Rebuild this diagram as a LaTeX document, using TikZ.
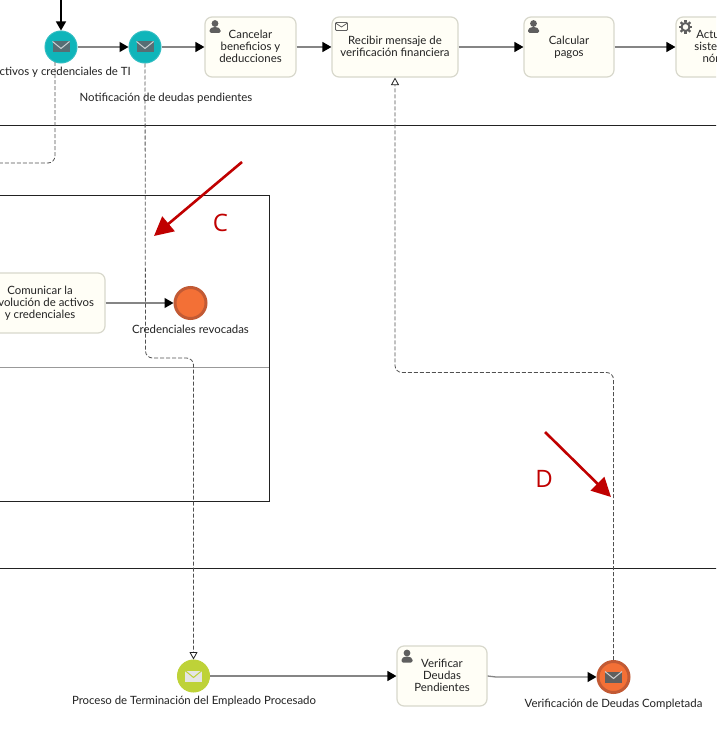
\documentclass[tikz,border=0pt]{standalone}
\usepackage{fontspec}
\setmainfont{Lato}
\newfontfamily\markfont{Open Sans}
\usetikzlibrary{arrows.meta}
\definecolor{taskfill}{HTML}{FFFEF6}
\definecolor{taskline}{HTML}{D8D8CC}
\definecolor{flowgrey}{HTML}{858585}
\definecolor{dashgrey}{HTML}{505050}
\definecolor{inkdark}{HTML}{222222}
\definecolor{iconsgrey}{HTML}{5F5F5F}
\definecolor{tealfill}{HTML}{0FB5BA}
\definecolor{tealline}{HTML}{2FBDC2}
\definecolor{tealicon}{HTML}{566E74}
\definecolor{orangefill}{HTML}{F37036}
\definecolor{orangeline}{HTML}{C25A34}
\definecolor{greenfill}{HTML}{BED238}
\definecolor{markred}{HTML}{C00000}
\newcommand\lstrut{\vphantom{Ag}}
\tikzset{
  x=1pt,y=-1pt,
  txt/.style={font=\fontsize{11.4}{12}\selectfont,text=inkdark,align=center,inner sep=0pt},
  taskbox/.style={draw=taskline,fill=taskfill,line width=1.2pt,rounded corners=7pt,minimum height=60pt,inner sep=0pt,
     font=\fontsize{11.4}{12}\selectfont,text=inkdark,align=center},
  evteal/.style={circle,draw=tealline,fill=tealfill,line width=1pt,minimum size=32pt,inner sep=0pt},
  evgreen/.style={circle,draw=greenfill,fill=greenfill,line width=1pt,minimum size=32pt,inner sep=0pt},
  evorange/.style={circle,draw=orangeline,fill=orangefill,line width=3pt,minimum size=31pt,inner sep=0pt},
  seqflow/.style={draw=flowgrey,line width=1.3pt,-{Triangle[length=9pt,width=10pt,color=black,fill=black]}},
  msgflow/.style={draw=dashgrey,line width=0.8pt,dash pattern=on 4pt off 2pt,rounded corners=7pt,
     -{Triangle[open,length=7.5pt,width=8pt,color=inkdark,fill=white]}},
  msgplain/.style={draw=dashgrey,line width=0.8pt,dash pattern=on 4pt off 2pt,rounded corners=7pt},
  redarrow/.style={draw=markred,line width=2.6pt,-{Triangle[length=19pt,width=19pt,color=markred,fill=markred]}},
  pool/.style={draw=inkdark,line width=1pt},
  bigletter/.style={font=\markfont\fontsize{24}{24}\selectfont,text=markred,inner sep=0pt},
  envfilled/.pic={
    \fill[#1] (-8.5,-5.5) rectangle (8.5,5.5);
    \draw[white!70!#1,line width=1pt] (-8.5,-5.5) -- (0,1.5) -- (8.5,-5.5);
  },
  envlight/.pic={
    \fill[white!90!black] (-8.5,-5.5) rectangle (8.5,5.5);
    \draw[greenfill,line width=1pt] (-8.5,-5.5) -- (0,1.5) -- (8.5,-5.5);
  },
  envopen/.pic={
    \draw[iconsgrey,line width=0.8pt,rounded corners=1pt] (-6,-4) rectangle (6,4);
    \draw[iconsgrey,line width=0.8pt] (-6,-3.5) -- (0,0.5) -- (6,-3.5);
  },
  person/.pic={
    \fill[iconsgrey] (0,-3) circle (3.4);
    \fill[iconsgrey,rounded corners=1.5pt] (-5.5,6.5) -- (-5.5,2.5) -- (-2,0.5) -- (2,0.5) -- (5.5,2.5) -- (5.5,6.5) -- cycle;
  },
  gear/.pic={
    \draw[iconsgrey,line width=2pt] (0,0) circle (4);
    \foreach \a in {0,45,...,315} \draw[iconsgrey,line width=2.4pt] (\a:4.5) -- (\a:6.8);
  }
}
\begin{document}
\begin{tikzpicture}
\path[use as bounding box] (0,0) rectangle (716,752);
\clip (0,0) rectangle (716,752);
\fill[white] (0,0) rectangle (716,752);

% pools
\coordinate (laneAl) at (-5,125); \coordinate (laneAr) at (721,125);
\coordinate (laneBl) at (-5,568); \coordinate (laneBr) at (721,568);
\draw[pool] (laneAl) -- (laneAr);
\draw[pool] (laneBl) -- (laneBr);
\draw[draw=inkdark,line width=1pt] (-5,195) -- (269,195) -- (269,501) -- (-5,501);
\draw[draw=black!40,line width=0.8pt] (-5,367) -- (269,367);

% nodes
\node[evteal] (e1) at (61,47) {};
\node[evteal] (e2) at (145,47) {};
\node[taskbox,minimum width=91pt] (t1) at (250.5,47) {\lstrut Cancelar\\beneficios y\\deducciones\lstrut};
\node[taskbox,minimum width=126pt] (t2) at (395,47) {\lstrut Recibir mensaje de\\verificación financiera\lstrut};
\node[taskbox,minimum width=90pt] (t3) at (569,47) {\lstrut Calcular\\pagos\lstrut};
\node[taskbox,minimum width=90pt] (t4) at (721,47) {\lstrut Actualizar\\sistema de\\nómina\lstrut};
\node[taskbox,minimum width=130pt] (t5) at (40,303) {\lstrut Comunicar la\\devolución de activos\\y credenciales\lstrut};
\node[evorange] (e3) at (190.5,303) {};
\node[evgreen] (e4) at (193.5,676) {};
\node[taskbox,minimum width=90pt] (t6) at (442,676) {\lstrut Verificar\\Deudas\\Pendientes\lstrut};
\node[evorange] (e5) at (613.5,677) {};

% labels
\node[txt,anchor=east] (l1) at (131,72) {Devolución de activos y credenciales de TI};
\node[txt] (l2) at (166,98) {Notificación de deudas pendientes};
\node[txt] (l3) at (190.5,329) {Credenciales revocadas};
\node[txt] (l4) at (194,701.5) {Proceso de Terminación del Empleado Procesado};
\node[txt] (l5) at (613.5,704.5) {Verificación de Deudas Completada};

% icons
\pic at (61,47) {envfilled=tealicon};
\pic at (145,47) {envfilled=tealicon};
\pic at (193.5,676) {envlight};
\pic at (613.5,677) {envfilled=iconsgrey};
\pic at (215,26.5) {person};
\pic at (341.5,26.5) {envopen};
\pic at (533.5,26.5) {person};
\pic at (685.5,27) {gear};
\pic at (407,656) {person};

% sequence flows
\coordinate (topin) at (61,-3);
\draw[seqflow,draw=black] (topin) -- (e1);
\draw[seqflow] (e1) -- (e2);
\draw[seqflow] (e2) -- (t1);
\draw[seqflow] (t1) -- (t2);
\draw[seqflow] (t2) -- (t3);
\draw[seqflow] (t3) -- (t4);
\draw[seqflow] (t5) -- (e3);
\draw[seqflow] (e4) -- (t6);
\coordinate (jog) at (496,677);
\draw[seqflow] (t6.east) -- (jog) -- (e5);

% message flows
\coordinate (m1a) at (55,62);
\coordinate (m1b) at (55,163);
\coordinate (m1c) at (-5,163);
\draw[msgplain] (m1a) -- (m1b) -- (m1c);
\coordinate (m2a) at (145.5,358);
\coordinate (m2b) at (193.5,358);
\draw[msgflow] (e2.south) -- (m2a) -- (m2b) -- (e4.north);
\coordinate (m3a) at (613.5,372.5);
\coordinate (m3b) at (395,372.5);
\draw[msgflow] (e5.north) -- (m3a) -- (m3b) -- (t2.south);

% annotations
\coordinate (cA) at (242,162); \coordinate (cB) at (154,236);
\coordinate (dA) at (545,432); \coordinate (dB) at (611,497);
\draw[redarrow] (cA) -- (cB);
\draw[redarrow] (dA) -- (dB);
\node[bigletter] (mc) at (220.5,223) {C};
\node[bigletter] (md) at (544,479) {D};
\end{tikzpicture}
\end{document}
